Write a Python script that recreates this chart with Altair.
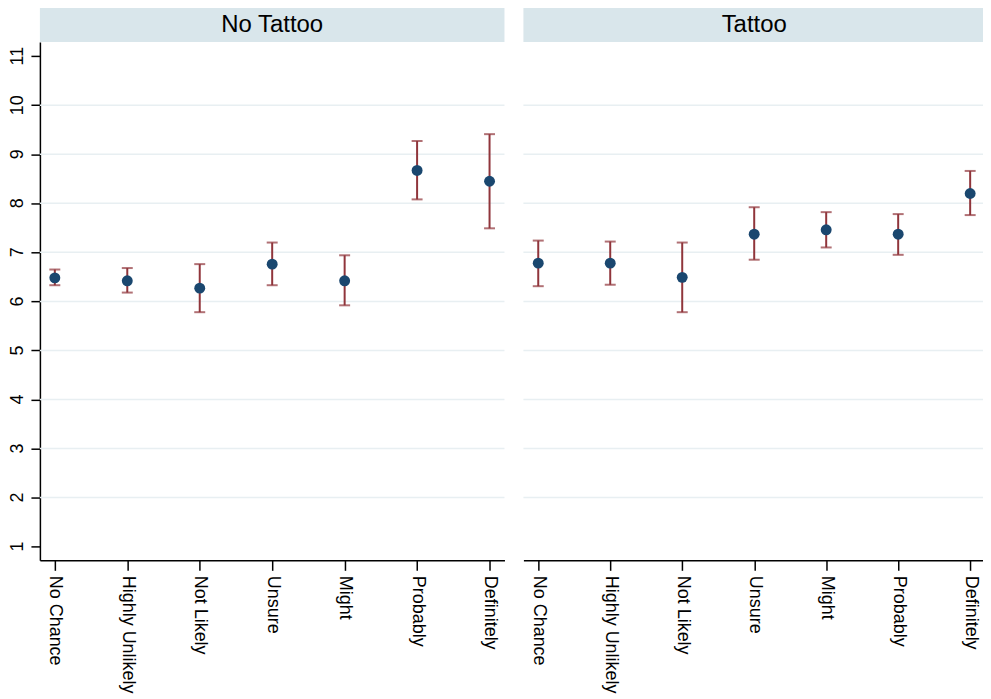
import altair as alt
import pandas as pd

categories = ["No Chance", "Highly Unlikely", "Not Likely", "Unsure", "Might", "Probably", "Definitely"]
panels = ["No Tattoo", "Tattoo"]

no_tattoo_mean = [6.48, 6.42, 6.27, 6.76, 6.42, 8.67, 8.45]
no_tattoo_lo = [6.33, 6.18, 5.78, 6.33, 5.92, 8.08, 7.49]
no_tattoo_hi = [6.65, 6.68, 6.76, 7.20, 6.94, 9.27, 9.41]

tattoo_mean = [6.78, 6.78, 6.49, 7.37, 7.46, 7.37, 8.20]
tattoo_lo = [6.31, 6.34, 5.78, 6.85, 7.10, 6.95, 7.76]
tattoo_hi = [7.24, 7.22, 7.20, 7.92, 7.82, 7.78, 8.66]

y_ticks = list(range(1, 12))
grid_values = list(range(2, 11))

NAVY = "#1a476f"
MAROON = "#90353b"
BAND = "#d9e6eb"
GRID = "#e8eff2"
FONT = "Liberation Sans"
W1, W2, H = 466, 463, 520

yscale = alt.Scale(domain=[0.72, 11.29], nice=False, zero=False)


def panel(name, mean, lo, hi, show_axis, W):
    df = pd.DataFrame({"cat": categories, "mean": mean, "lo": lo, "hi": hi})
    base = alt.Chart(df)
    x = alt.X(
        "cat:N", sort=categories,
        scale=alt.Scale(type="point", padding=0.206),
        axis=alt.Axis(title=None, labelAngle=90, labelAlign="left", labelBaseline="middle",
                      labelFontSize=18, labelFont=FONT, labelColor="black", labelPadding=5,
                      tickSize=10, tickWidth=1.5, tickColor="black",
                      domainColor="black", domainWidth=1.5, grid=False, labelOverlap=False),
    )
    if show_axis:
        yaxis = alt.Axis(title=None, values=y_ticks, labels=False, tickSize=9, tickWidth=1.5,
                         tickColor="black", domainColor="black", domainWidth=1.5, grid=False)
    else:
        yaxis = alt.Axis(title=None, labels=False, ticks=False, domain=False, grid=False)

    grid_df = pd.DataFrame({"g": grid_values})
    grid = alt.Chart(grid_df).mark_rule(color=GRID, strokeWidth=1.5).encode(
        y=alt.Y("g:Q", scale=yscale, axis=yaxis)
    )
    rule = base.mark_rule(color=MAROON, strokeWidth=2).encode(
        x=x, y=alt.Y("lo:Q", scale=yscale, axis=yaxis), y2="hi:Q"
    )
    cap_lo = base.mark_tick(color=MAROON, size=11, thickness=2).encode(
        x=x, y=alt.Y("lo:Q", scale=yscale, axis=yaxis)
    )
    cap_hi = base.mark_tick(color=MAROON, size=11, thickness=2).encode(
        x=x, y=alt.Y("hi:Q", scale=yscale, axis=yaxis)
    )
    points = base.mark_circle(size=120, color=NAVY, opacity=1).encode(
        x=x, y=alt.Y("mean:Q", scale=yscale, axis=yaxis)
    )
    hdr_df = pd.DataFrame({"panel": [name]})
    hdr_rect = alt.Chart(hdr_df).mark_rect(color=BAND).encode(
        x=alt.value(0), x2=alt.value(W), y=alt.value(-34), y2=alt.value(0)
    )
    hdr_text = alt.Chart(hdr_df).mark_text(fontSize=24, font=FONT, color="black",
                                           baseline="middle", align="center").encode(
        x=alt.value(W / 2), y=alt.value(-17), text="panel:N"
    )
    layers = [grid, hdr_rect, hdr_text, rule, cap_lo, cap_hi, points]
    if show_axis:
        lab_df = pd.DataFrame({"v": y_ticks})
        ylabels = alt.Chart(lab_df).mark_text(
            angle=270, align="center", baseline="bottom", fontSize=18, font=FONT, color="black"
        ).encode(
            x=alt.value(-13), y=alt.Y("v:Q", scale=yscale, axis=yaxis), text="v:Q"
        )
        layers.append(ylabels)
    return alt.layer(*layers).properties(width=W, height=H)


left = panel(panels[0], no_tattoo_mean, no_tattoo_lo, no_tattoo_hi, True, W1)
right = panel(panels[1], tattoo_mean, tattoo_lo, tattoo_hi, False, W2)

chart = alt.hconcat(left, right, spacing=17).properties(
    padding={"left": 0, "top": -1, "right": -3, "bottom": 0},
    background="white",
).configure_view(stroke=None)

chart.save("out.html", embed_options={"renderer": "svg", "actions": False})
